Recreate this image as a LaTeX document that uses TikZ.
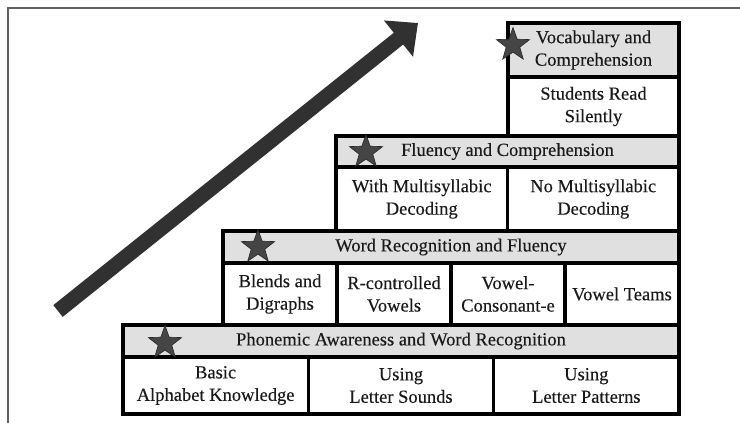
\documentclass[tikz,border=0pt]{standalone}
\usepackage{fontspec}
\setmainfont{Liberation Serif}[FakeBold=0.25]
\usetikzlibrary{shapes.geometric,arrows.meta}
\definecolor{hdrgray}{HTML}{E0E0E0}
\definecolor{inkc}{HTML}{1A1A1A}
\definecolor{starfill}{HTML}{454545}
\definecolor{framegray}{HTML}{606060}
\tikzset{
  cellbox/.style={draw=black, line width=3.6pt, anchor=north west, align=center,
    inner sep=0pt, outer sep=0pt, text=inkc, font=\fontsize{18.5}{22.5}\selectfont},
  hdrbox/.style={cellbox, fill=hdrgray},
  bodybox/.style={cellbox, fill=white},
  starmark/.style={star, star points=5, star point ratio=2.45, minimum size=35pt,
    inner sep=0pt, fill=starfill, draw=black!85, line width=0.6pt},
}
\begin{document}
\begin{tikzpicture}[x=1pt,y=-1pt]
\useasboundingbox (0,0) rectangle (740,423);
% outer frame (cropped)
\coordinate (fA) at (8,423);
\coordinate (fB) at (8,8);
\coordinate (fC) at (740,8);
\draw[framegray, line width=1.4pt] (fA) -- (fB) -- (fC);

% arrow
\coordinate (atail) at (58,311);
\coordinate (ahead) at (418,23);
\draw[inkc!90, line width=15pt, -{Triangle[width=45pt,length=25pt]}] (atail) -- (ahead);

% Level 1
\node[bodybox, minimum width=185.33pt, minimum height=57pt] (l1a) at (123,357) {Basic\\Alphabet Knowledge};
\node[bodybox, minimum width=185.33pt, minimum height=57pt] (l1b) at (308.33,357) {Using\\Letter Sounds};
\node[bodybox, minimum width=185.34pt, minimum height=57pt] (l1c) at (493.67,357) {Using\\Letter Patterns};
\node[hdrbox, minimum width=556pt, minimum height=32pt] (l1h) at (123,325) {Phonemic Awareness and Word Recognition};

% Level 2
\node[bodybox, minimum width=114pt, minimum height=62pt] (l2a) at (223,263) {Blends and\\Digraphs};
\node[bodybox, minimum width=114pt, minimum height=62pt] (l2b) at (337,263) {R-controlled\\Vowels};
\node[bodybox, minimum width=114pt, minimum height=62pt] (l2c) at (451,263) {Vowel-\\Consonant-e};
\node[bodybox, minimum width=114pt, minimum height=62pt] (l2d) at (565,263) {Vowel Teams};
\node[hdrbox, minimum width=456pt, minimum height=32pt] (l2h) at (223,231) {Word Recognition and Fluency};

% Level 3
\node[bodybox, minimum width=171.5pt, minimum height=64pt] (l3a) at (336,167) {With Multisyllabic\\Decoding};
\node[bodybox, minimum width=171.5pt, minimum height=64pt] (l3b) at (507.5,167) {No Multisyllabic\\Decoding};
\node[hdrbox, minimum width=343pt, minimum height=31pt] (l3h) at (336,136) {Fluency and Comprehension};

% Level 4
\node[bodybox, minimum width=171pt, minimum height=59pt] (l4a) at (508,77) {Students Read\\Silently};
\node[hdrbox, minimum width=171pt, minimum height=54pt] (l4h) at (508,23) {Vocabulary and\\Comprehension};

% stars
\node[starmark] (s4) at (513,45) {};
\node[starmark] (s3) at (366,152) {};
\node[starmark] (s2) at (258,247) {};
\node[starmark] (s1) at (165,343) {};
\end{tikzpicture}
\end{document}
